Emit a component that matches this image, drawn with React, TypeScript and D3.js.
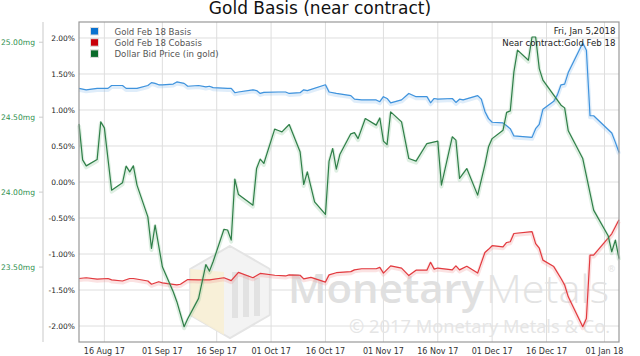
import React from "react";
import * as d3 from "d3";

const W = 640;
const H = 356;

const title = "Gold Basis (near contract)";
const legendLabels = ["Gold Feb 18 Basis", "Gold Feb 18 Cobasis", "Dollar Bid Price (in gold)"];
const annotation = ["Fri, Jan 5,2018", "Near contract:Gold Feb 18"];

const pctTicks = [2, 1.5, 1, 0.5, 0, -0.5, -1, -1.5, -2];
const mgTicks = [25.0, 24.5, 24.0, 23.5];
const xTickDates = ["2017-08-16", "2017-09-01", "2017-09-16", "2017-10-01", "2017-10-16", "2017-11-01", "2017-11-16", "2017-12-01", "2017-12-16", "2018-01-01"];
const xTickLabels = ["16 Aug 17", "01 Sep 17", "16 Sep 17", "01 Oct 17", "16 Oct 17", "01 Nov 17", "16 Nov 17", "01 Dec 17", "16 Dec 17", "01 Jan 18"];

const basisSeries: [string, number][] = [
  ["2017-08-09", 1.30], ["2017-08-11", 1.28], ["2017-08-14", 1.30], ["2017-08-17", 1.30],
  ["2017-08-18", 1.34], ["2017-08-21", 1.34], ["2017-08-22", 1.30], ["2017-08-25", 1.30],
  ["2017-08-28", 1.34], ["2017-08-29", 1.38], ["2017-08-30", 1.37], ["2017-08-31", 1.35],
  ["2017-09-01", 1.35], ["2017-09-04", 1.36], ["2017-09-05", 1.39], ["2017-09-07", 1.37],
  ["2017-09-08", 1.33], ["2017-09-11", 1.34], ["2017-09-13", 1.32], ["2017-09-14", 1.33],
  ["2017-09-15", 1.31], ["2017-09-19", 1.30], ["2017-09-20", 1.30], ["2017-09-21", 1.24],
  ["2017-09-22", 1.25], ["2017-09-26", 1.28], ["2017-09-27", 1.27], ["2017-09-28", 1.23],
  ["2017-09-29", 1.245], ["2017-10-03", 1.25], ["2017-10-05", 1.25], ["2017-10-06", 1.23],
  ["2017-10-09", 1.24], ["2017-10-10", 1.28], ["2017-10-11", 1.27], ["2017-10-16", 1.35],
  ["2017-10-17", 1.25], ["2017-10-19", 1.23], ["2017-10-23", 1.20], ["2017-10-24", 1.15],
  ["2017-10-26", 1.14], ["2017-10-30", 1.14], ["2017-10-31", 1.115], ["2017-11-01", 1.185],
  ["2017-11-02", 1.16], ["2017-11-03", 1.10], ["2017-11-06", 1.14], ["2017-11-08", 1.23],
  ["2017-11-10", 1.185], ["2017-11-13", 1.185], ["2017-11-14", 1.10], ["2017-11-15", 1.16],
  ["2017-11-16", 1.15], ["2017-11-20", 1.16], ["2017-11-21", 1.105], ["2017-11-22", 1.15],
  ["2017-11-23", 1.14], ["2017-11-27", 1.20], ["2017-11-28", 1.15], ["2017-11-29", 0.98],
  ["2017-11-30", 0.88], ["2017-12-01", 0.83], ["2017-12-04", 0.82], ["2017-12-05", 0.78],
  ["2017-12-06", 0.74], ["2017-12-07", 0.64], ["2017-12-12", 0.62], ["2017-12-13", 0.74],
  ["2017-12-14", 0.80], ["2017-12-15", 1.01], ["2017-12-18", 1.12], ["2017-12-19", 1.21],
  ["2017-12-20", 1.35], ["2017-12-21", 1.36], ["2017-12-22", 1.52], ["2017-12-26", 1.93],
  ["2017-12-27", 1.83], ["2017-12-28", 0.92], ["2017-12-29", 0.92], ["2018-01-03", 0.68],
  ["2018-01-04", 0.55], ["2018-01-05", 0.41],
];

const cobasisSeries: [string, number][] = [
  ["2017-08-09", -1.34], ["2017-08-11", -1.33], ["2017-08-14", -1.35], ["2017-08-17", -1.34],
  ["2017-08-18", -1.36], ["2017-08-21", -1.375], ["2017-08-23", -1.34], ["2017-08-24", -1.34],
  ["2017-08-28", -1.375], ["2017-08-29", -1.42], ["2017-08-31", -1.385], ["2017-09-01", -1.40],
  ["2017-09-05", -1.43], ["2017-09-06", -1.42], ["2017-09-08", -1.355], ["2017-09-11", -1.36],
  ["2017-09-14", -1.36], ["2017-09-18", -1.33], ["2017-09-20", -1.37], ["2017-09-22", -1.255],
  ["2017-09-26", -1.33], ["2017-09-28", -1.27], ["2017-10-02", -1.295], ["2017-10-05", -1.305],
  ["2017-10-06", -1.29], ["2017-10-09", -1.295], ["2017-10-10", -1.345], ["2017-10-12", -1.325],
  ["2017-10-16", -1.39], ["2017-10-17", -1.29], ["2017-10-19", -1.26], ["2017-10-23", -1.245],
  ["2017-10-24", -1.22], ["2017-10-26", -1.205], ["2017-10-30", -1.205], ["2017-10-31", -1.185],
  ["2017-11-01", -1.265], ["2017-11-03", -1.165], ["2017-11-06", -1.195], ["2017-11-08", -1.30],
  ["2017-11-10", -1.225], ["2017-11-13", -1.225], ["2017-11-14", -1.115], ["2017-11-15", -1.21],
  ["2017-11-16", -1.195], ["2017-11-20", -1.22], ["2017-11-21", -1.165], ["2017-11-22", -1.22],
  ["2017-11-24", -1.17], ["2017-11-27", -1.265], ["2017-11-29", -0.98], ["2017-11-30", -0.935],
  ["2017-12-01", -0.885], ["2017-12-04", -0.90], ["2017-12-05", -0.84], ["2017-12-06", -0.83],
  ["2017-12-07", -0.715], ["2017-12-12", -0.69], ["2017-12-13", -0.855], ["2017-12-14", -0.92],
  ["2017-12-15", -1.085], ["2017-12-18", -1.175], ["2017-12-20", -1.34], ["2017-12-21", -1.43],
  ["2017-12-22", -1.595], ["2017-12-26", -2.01], ["2017-12-27", -1.895], ["2017-12-28", -1.015],
  ["2017-12-29", -1.015], ["2018-01-03", -0.72], ["2018-01-05", -0.525],
];

const dollarSeries: [string, number][] = [
  ["2017-08-09", 24.455], ["2017-08-10", 24.215], ["2017-08-11", 24.175], ["2017-08-14", 24.217],
  ["2017-08-15", 24.469], ["2017-08-16", 24.429], ["2017-08-18", 24.013], ["2017-08-21", 24.062],
  ["2017-08-22", 24.173], ["2017-08-23", 24.135], ["2017-08-24", 24.175], ["2017-08-25", 24.047],
  ["2017-08-28", 23.835], ["2017-08-29", 23.624], ["2017-08-30", 23.78], ["2017-09-01", 23.502],
  ["2017-09-04", 23.335], ["2017-09-05", 23.269], ["2017-09-07", 23.102], ["2017-09-08", 23.155],
  ["2017-09-11", 23.291], ["2017-09-13", 23.517], ["2017-09-14", 23.473], ["2017-09-15", 23.535],
  ["2017-09-18", 23.752], ["2017-09-19", 23.747], ["2017-09-20", 23.68], ["2017-09-21", 24.087],
  ["2017-09-22", 23.984], ["2017-09-26", 23.913], ["2017-09-27", 24.157], ["2017-09-28", 24.22],
  ["2017-09-29", 24.191], ["2017-10-02", 24.42], ["2017-10-03", 24.411], ["2017-10-04", 24.402],
  ["2017-10-06", 24.451], ["2017-10-09", 24.269], ["2017-10-10", 24.051], ["2017-10-11", 24.135],
  ["2017-10-13", 23.935], ["2017-10-16", 23.851], ["2017-10-17", 24.207], ["2017-10-18", 24.291],
  ["2017-10-19", 24.153], ["2017-10-20", 24.253], ["2017-10-23", 24.389], ["2017-10-24", 24.397],
  ["2017-10-25", 24.357], ["2017-10-27", 24.491], ["2017-10-30", 24.447], ["2017-10-31", 24.495],
  ["2017-11-01", 24.34], ["2017-11-02", 24.317], ["2017-11-03", 24.535], ["2017-11-06", 24.469],
  ["2017-11-08", 24.224], ["2017-11-10", 24.207], ["2017-11-13", 24.324], ["2017-11-16", 24.34],
  ["2017-11-17", 24.047], ["2017-11-20", 24.369], ["2017-11-21", 24.347], ["2017-11-22", 24.091],
  ["2017-11-24", 24.157], ["2017-11-27", 23.98], ["2017-11-29", 24.182], ["2017-11-30", 24.302],
  ["2017-12-01", 24.357], ["2017-12-04", 24.413], ["2017-12-05", 24.532], ["2017-12-06", 24.542],
  ["2017-12-07", 24.802], ["2017-12-08", 24.947], ["2017-12-11", 24.88], ["2017-12-12", 25.035],
  ["2017-12-13", 25.035], ["2017-12-14", 24.824], ["2017-12-15", 24.747], ["2017-12-20", 24.58],
  ["2017-12-21", 24.562], ["2017-12-22", 24.409], ["2017-12-26", 24.224], ["2017-12-29", 23.88],
  ["2018-01-02", 23.709], ["2018-01-03", 23.602], ["2018-01-04", 23.68], ["2018-01-05", 23.557],
];

const FONT = "'DejaVu Sans', sans-serif";
const WM_FONT = "'Open Sans', 'DejaVu Sans', sans-serif";
const parse = (s: string) => new Date(s + "T00:00:00Z");

export default function App() {
  const L = 79, R = 619, T = 22, B = 342;
  const x = d3.scaleUtc().domain([parse("2017-08-09"), parse("2018-01-05")]).range([L, R]);
  const yPct = d3.scaleLinear().domain([-2.2222, 2.2222]).range([B, T]);
  const yMg = d3.scaleLinear().domain([23.0, 25.135]).range([B, T]);

  const pctLine = d3.line<[string, number]>().x((d) => x(parse(d[0]))).y((d) => yPct(d[1]));
  const mgLine = d3.line<[string, number]>().x((d) => x(parse(d[0]))).y((d) => yMg(d[1]));

  const series = [
    { d: pctLine(basisSeries) || "", color: "#3f93dd", halo: "#7fb8ec" },
    { d: pctLine(cobasisSeries) || "", color: "#e23a3f", halo: "#ef8a8d" },
    { d: mgLine(dollarSeries) || "", color: "#2f7f48", halo: "#7fbf8f" },
  ];
  const legendColors = ["#0a72d0", "#c8000a", "#0a6a2a"];

  // logo hexagon
  const cx = 230, cy = 292, r = 46;
  const hex = d3.range(6).map((i) => {
    const a = (Math.PI / 3) * i - Math.PI / 2;
    return [cx + r * Math.cos(a), cy + r * Math.sin(a)];
  });
  const hexPath = "M" + hex.map((p) => p.join(",")).join("L") + "Z";
  const leftFace = `M${hex[5].join(",")}L${cx - 6},${cy - r + 26}L${cx - 6},${cy + r - 3}L${hex[4].join(",")}Z`;

  return (
    <svg width={W} height={H} style={{ position: "absolute", left: 0, top: 0, background: "#fff" }} fontFamily={FONT}>
      <rect x={0} y={0} width={W} height={H} fill="#fff" />
      {/* title */}
      <text x={320} y={13.5} textAnchor="middle" fontSize={17} fill="#111">{title}</text>

      {/* green axis line */}
      <line x1={43} x2={43} y1={T} y2={B} stroke="#e4e4e4" strokeWidth={2} />
      {mgTicks.map((t) => (
        <g key={t}>
          <line x1={39} x2={43} y1={yMg(t)} y2={yMg(t)} stroke="#ccc" strokeWidth={1} />
          <text x={35} y={yMg(t) + 2.8} textAnchor="end" fontSize={7.6} fill="#2f8f4f">{t.toFixed(2) + "mg"}</text>
        </g>
      ))}

      {/* gridlines */}
      {pctTicks.map((t) => (
        <line key={"h" + t} x1={L} x2={R} y1={yPct(t)} y2={yPct(t)} stroke="#dedede" strokeWidth={1} />
      ))}
      {xTickDates.map((s) => (
        <line key={"v" + s} x1={x(parse(s))} x2={x(parse(s))} y1={T} y2={B} stroke="#dedede" strokeWidth={1} />
      ))}

      {/* watermark */}
      <g>
        <path d={hexPath} fill="#f3f3f3" stroke="#e4e4e4" strokeWidth={2} />
        <path d={leftFace} fill="#f8efd2" opacity={0.85} />
        {[0, 1, 2].map((i) => (
          <rect key={i} x={cx + 2 + i * 11} y={cy - 20 + i * 3} width={6} height={46 - i * 4} fill="#e2e2e2" />
        ))}
        <text x={288} y={303} fontSize={39} fill="#e0e0e0" fontFamily={WM_FONT} fontWeight={600} textLength={196} lengthAdjust="spacingAndGlyphs">Monetary</text>
        <text x={486} y={303} fontSize={39} fill="#e3e3e3" fontFamily={WM_FONT} fontWeight={300} textLength={123} lengthAdjust="spacingAndGlyphs">Metals</text>
        <text x={607} y={272} fontSize={9} fill="#e3e3e3">®</text>
        <text x={349} y={333} fontSize={17.5} fill="#e5e5e5" fontFamily={WM_FONT} textLength={261} lengthAdjust="spacingAndGlyphs">© 2017 Monetary Metals &amp; Co.</text>
      </g>

      {/* series */}
      {series.map((s, i) => (
        <g key={i}>
          <path d={s.d} fill="none" stroke={s.halo} strokeWidth={4} strokeOpacity={0.25} transform="translate(0,1.5)" strokeLinejoin="round" />
          <path d={s.d} fill="none" stroke={s.color} strokeWidth={1.2} strokeLinejoin="round" />
        </g>
      ))}

      {/* plot border */}
      <rect x={L} y={T} width={R - L} height={B - T} fill="none" stroke="#999" strokeWidth={1.2} />

      {/* percent axis labels */}
      {pctTicks.map((t) => (
        <text key={"p" + t} x={75} y={yPct(t) + 2.7} textAnchor="end" fontSize={7.5} fill="#222">{t.toFixed(2) + "%"}</text>
      ))}

      {/* x labels */}
      {xTickDates.map((s, i) => (
        <text key={"x" + s} x={x(parse(s))} y={354} textAnchor="middle" fontSize={8} fill="#333">{xTickLabels[i]}</text>
      ))}

      {/* legend */}
      {legendLabels.map((lab, i) => (
        <g key={lab}>
          <rect x={90.5} y={27.5 + i * 11.2} width={8} height={7.5} fill={legendColors[i]} stroke="#ddd" strokeWidth={1} />
          <text x={114.5} y={34.5 + i * 11.2} fontSize={8.6} fill="#555">{lab}</text>
        </g>
      ))}

      {/* annotation */}
      {annotation.map((a, i) => (
        <text key={a} x={615.5} y={34.3 + i * 11.2} textAnchor="end" fontSize={8.6} fill="#222">{a}</text>
      ))}
    </svg>
  );
}
